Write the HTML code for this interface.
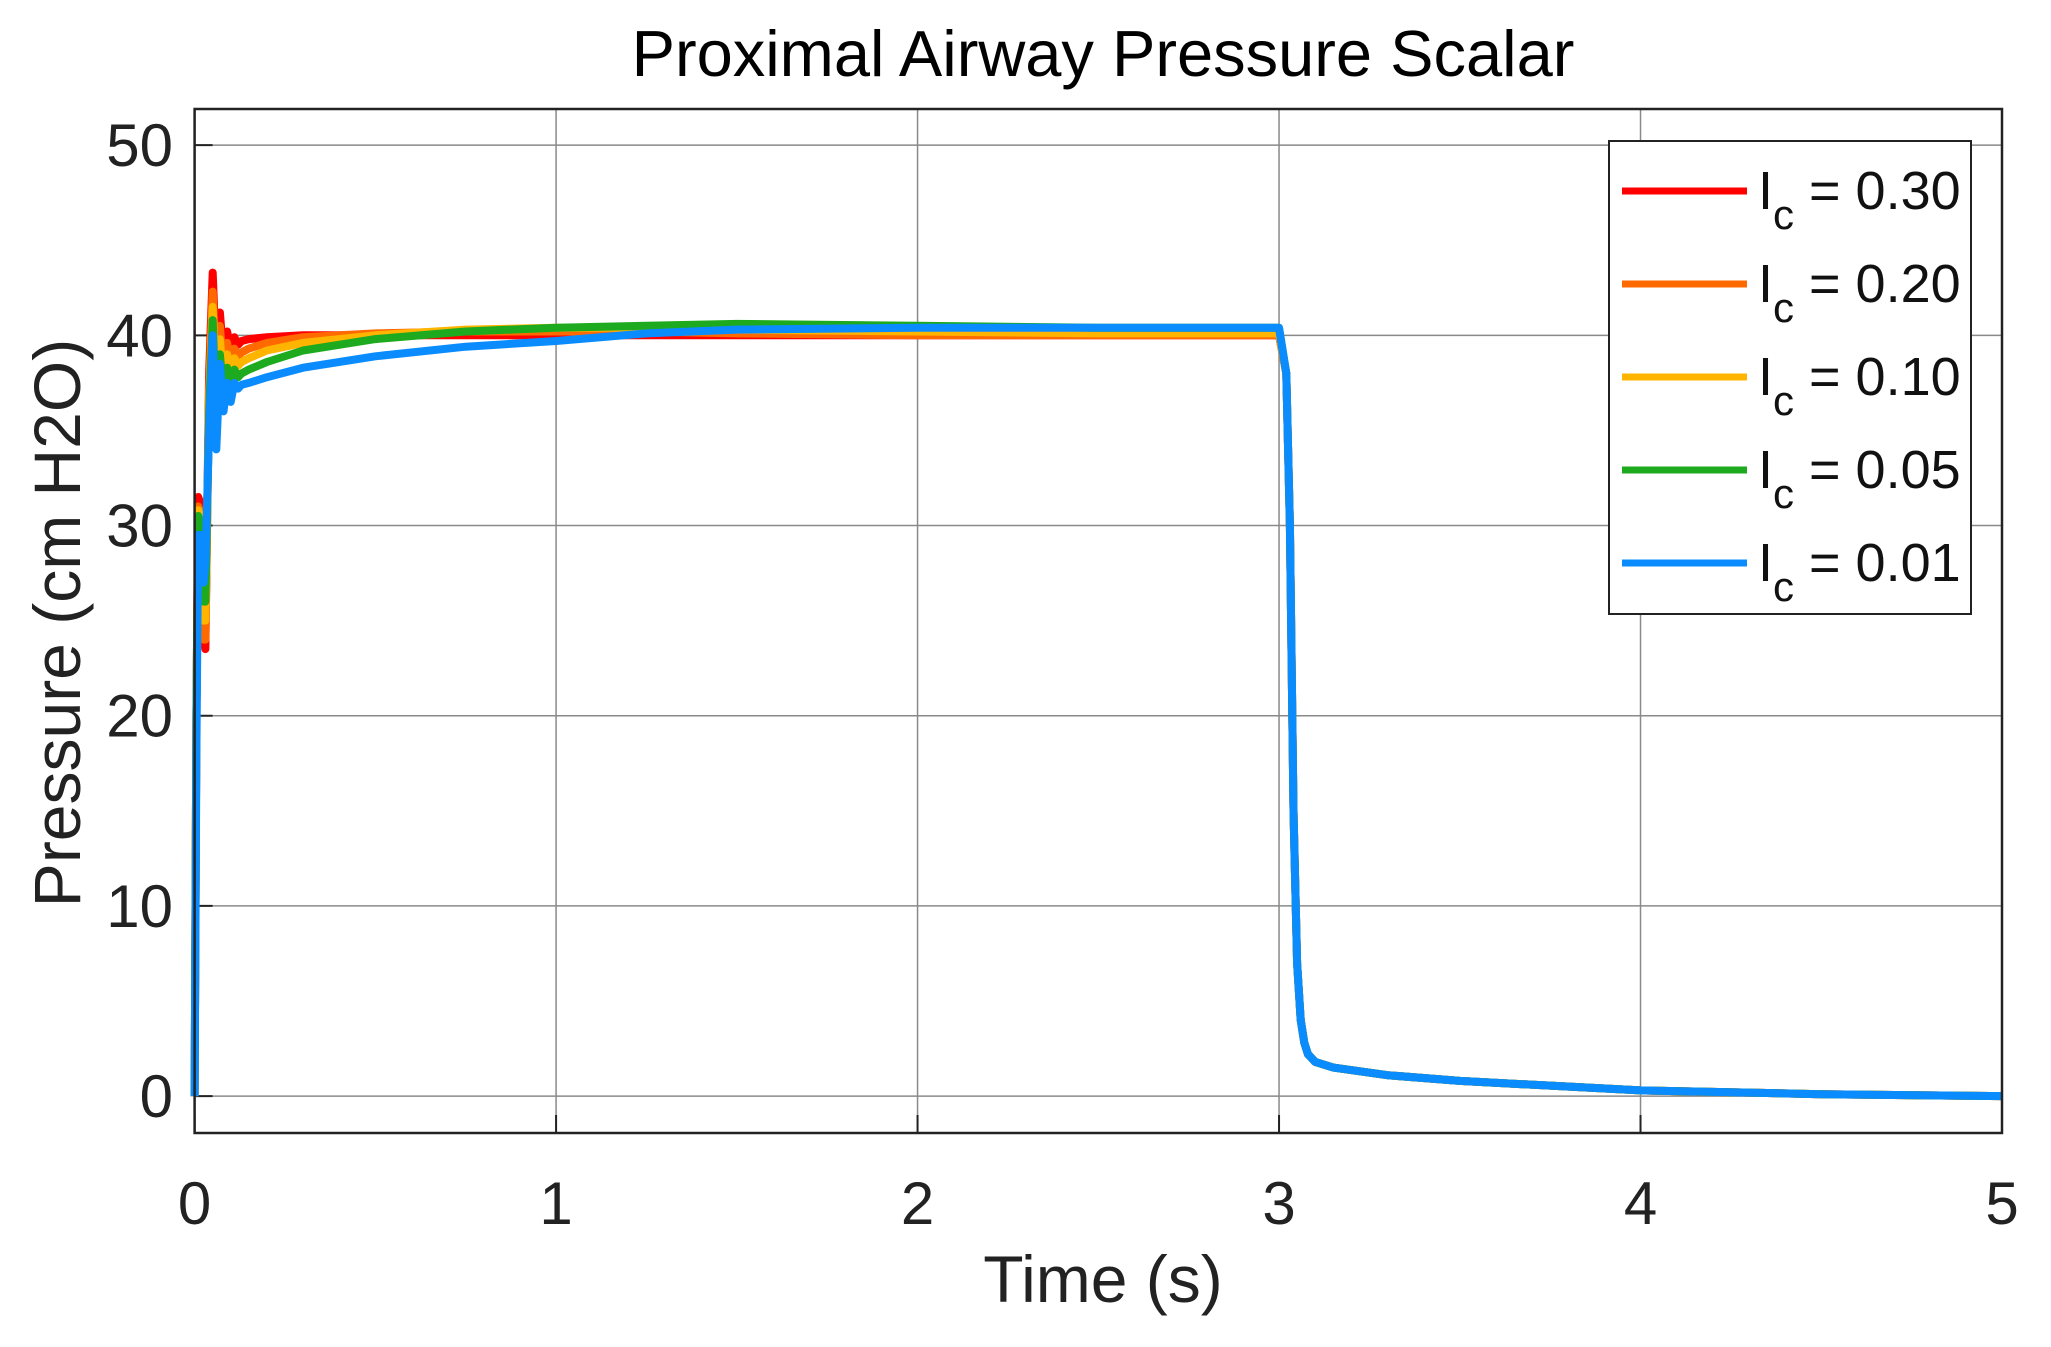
<!DOCTYPE html>
<html><head><meta charset="utf-8"><style>
html,body{margin:0;padding:0;background:#fff;}
svg{display:block;font-family:"Liberation Sans",Arial,sans-serif;}
</style></head><body>
<svg id="chart" width="2051" height="1347" viewBox="0 0 2051 1347">
<rect x="0" y="0" width="2051" height="1347" fill="#fff"/>
<text x="1103" y="76" font-size="65" text-anchor="middle" fill="#000">Proximal Airway Pressure Scalar</text>
<g id="grid"></g>
<g id="ticks"></g>
<g id="series"></g>
<rect x="194.6" y="109" width="1807.4" height="1024" fill="none" stroke="#222" stroke-width="2.5"/>
<text x="1103" y="1302" font-size="66" text-anchor="middle" fill="#222">Time (s)</text>
<text transform="translate(80,623) rotate(-90)" font-size="66" text-anchor="middle" fill="#222">Pressure (cm H2O)</text>
<g id="legend"></g>
</svg>
<script>
const xTicks = [0,1,2,3,4,5];
const yTicks = [0,10,20,30,40,50];
const timeVals = [0,0.005,0.01,0.02,0.025,0.03,0.04,0.05,0.06,0.07,0.08,0.09,0.1,0.11,0.12,0.13,0.15,0.2,0.3,0.5,0.75,1,1.25,1.5,2,2.5,3,3.02,3.03,3.04,3.05,3.06,3.07,3.08,3.1,3.15,3.3,3.5,4,4.5,5];
const tailVals = [38,30,15,7,4,2.8,2.2,1.8,1.5,1.1,0.8,0.3,0.1,0];
const red = [0,20,31.5,31,24,23.5,38,43.3,38.5,41.2,38.8,40.2,39.3,39.9,39.5,39.7,39.8,39.9,40,40,40,40,40,40,40,40,40].concat(tailVals);
const orange = [0,20,31,30.5,24,24,37,42.3,37.5,40.5,38,39.6,38.6,39.3,38.9,39.1,39.3,39.6,39.9,40.1,40.2,40.2,40.2,40.1,40,40,40].concat(tailVals);
const yellow = [0,20,30.8,30.3,25,25,36.5,41.5,36.5,39.8,37.5,39,38.2,38.8,38.4,38.6,38.8,39.2,39.6,40,40.3,40.4,40.4,40.3,40.2,40.1,40.1].concat(tailVals);
const green = [0,20,30.5,30,26,26,36,40.8,35.5,39,36.8,38.3,37.5,38.2,37.8,38,38.2,38.6,39.2,39.8,40.2,40.4,40.5,40.6,40.5,40.4,40.4].concat(tailVals);
const blue = [0,18,29.5,29.5,27,28,35,40,34,38.5,36,37.5,36.5,37.5,37.2,37.4,37.5,37.8,38.3,38.9,39.4,39.7,40.1,40.3,40.4,40.4,40.4].concat(tailVals);
const seriesNames = ["0.30","0.20","0.10","0.05","0.01"];
const seriesColors = ["#ff0000","#ff6a00","#ffb400","#1eaa1e","#0a8cff"];
const seriesData = [red,orange,yellow,green,blue];

const L=194.6,R=2002,T=109,B=1133,X0=0,X1=5,Y0=-1.94,Y1=51.9;
const sx=v=>L+(v-X0)/(X1-X0)*(R-L);
const sy=v=>B-(v-Y0)/(Y1-Y0)*(B-T);
const NS="http://www.w3.org/2000/svg";
function mk(tag,attrs,parent){const e=document.createElementNS(NS,tag);for(const k in attrs)e.setAttribute(k,attrs[k]);parent.appendChild(e);return e;}
const grid=document.getElementById('grid'),ticks=document.getElementById('ticks');
xTicks.forEach(v=>{
  const g=mk('line',{x1:sx(v),x2:sx(v),y1:T,y2:B,stroke:'#8a8a8a','stroke-width':1.5},grid);
  
  
  const tk=mk('line',{x1:sx(v),x2:sx(v),y1:B,y2:B-18,stroke:'#222','stroke-width':2},grid);
  
  
  const t=mk('text',{x:sx(v),y:1224,'font-size':60,'text-anchor':'middle',fill:'#222'},ticks);
  t.textContent=v;
  
  
});
yTicks.forEach(v=>{
  const g=mk('line',{x1:L,x2:R,y1:sy(v),y2:sy(v),stroke:'#8a8a8a','stroke-width':1.5},grid);
  
  
  const tk=mk('line',{x1:L,x2:L+18,y1:sy(v),y2:sy(v),stroke:'#222','stroke-width':2},grid);
  
  
  const t=mk('text',{x:173,y:sy(v)+21,'font-size':60,'text-anchor':'end',fill:'#222'},ticks);
  t.textContent=v;
  
  
});
const sg=document.getElementById('series');
seriesData.forEach((arr,i)=>{
  const d=arr.map((v,j)=>(j?'L':'M')+sx(timeVals[j]).toFixed(1)+','+sy(v).toFixed(1)).join('');
  const p=mk('path',{d:d,fill:'none',stroke:seriesColors[i],'stroke-width':8,'stroke-linejoin':'round'},sg);
  
  
});
const lg=document.getElementById('legend');
const box=mk('rect',{x:1609,y:141,width:362,height:473,fill:'#fff',stroke:'#222','stroke-width':2},lg);


const rowY=[191,284,377,470,563];
seriesNames.forEach((n,i)=>{
  const ln=mk('line',{x1:1622,x2:1747,y1:rowY[i],y2:rowY[i],stroke:seriesColors[i],'stroke-width':7},lg);
  
  
  const t=mk('text',{x:1758,y:rowY[i]+18,'font-size':54,fill:'#111'},lg);
  t.innerHTML='I<tspan dy="20" font-size="42">c</tspan><tspan dy="-20"> = '+n+'</tspan>';
  
  
});
</script>
</body></html>
